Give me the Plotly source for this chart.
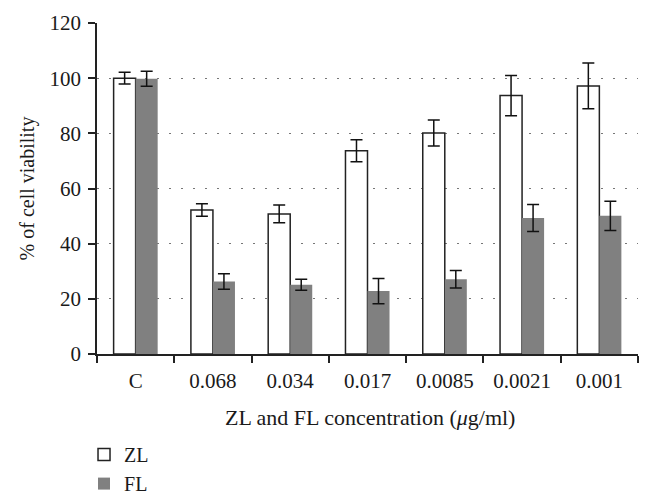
import plotly.graph_objects as go

categories = ["C", "0.068", "0.034", "0.017", "0.0085", "0.0021", "0.001"]
zl_values = [100.0, 52.2, 50.8, 73.7, 80.1, 93.7, 97.2]
zl_errors = [2.1, 2.3, 3.2, 4.0, 4.7, 7.3, 8.3]
fl_values = [99.8, 26.3, 25.1, 22.8, 27.1, 49.3, 50.1]
fl_errors = [2.7, 2.8, 2.0, 4.6, 3.2, 4.9, 5.3]
y_ticks = [0, 20, 40, 60, 80, 100, 120]

FONT = "Liberation Serif"

fig = go.Figure()
fig.add_trace(go.Bar(
    name="ZL", x=categories, y=zl_values,
    marker=dict(color="white", line=dict(color="#222222", width=1.5)),
    error_y=dict(type="data", array=zl_errors, color="#111111", thickness=1.5, width=6),
))
fig.add_trace(go.Bar(
    name="FL", x=categories, y=fl_values,
    marker=dict(color="#808080", line=dict(width=0)),
    error_y=dict(type="data", array=fl_errors, color="#111111", thickness=1.5, width=6),
))

fig.update_layout(
    width=645, height=495,
    margin=dict(l=89, r=15, t=15, b=149, autoexpand=False),
    plot_bgcolor="white", paper_bgcolor="white",
    barmode="group", bargap=0.43, bargroupgap=0,
    font=dict(family=FONT, size=21, color="#1a1a1a"),
    showlegend=True,
    legend=dict(x=-0.024, y=-0.245, xanchor="left", yanchor="top",
                orientation="v", font=dict(family=FONT, size=20, color="#1a1a1a"),
                bgcolor="rgba(0,0,0,0)", tracegroupgap=0),
)
fig.update_xaxes(
    type="category", showline=True, linecolor="#222222", linewidth=1.5,
    ticks="outside", tickson="boundaries", ticklen=7, tickwidth=1.5, tickcolor="#222222",
    showgrid=False, tickfont=dict(family=FONT, size=21), automargin=False,
    ticklabelstandoff=7,
)
fig.update_yaxes(
    range=[0, 120], tickvals=y_ticks, showline=True, linecolor="#222222", linewidth=1.5,
    ticks="outside", ticklen=7, tickwidth=1.5, tickcolor="#222222",
    showgrid=True, gridcolor="#777777", gridwidth=1.2, griddash="1.5px,10.5px",
    zeroline=False, tickfont=dict(family=FONT, size=21), automargin=False,
    ticklabelstandoff=3,
    title=dict(text="% of cell viability", font=dict(family=FONT, size=20), standoff=10),
)
fig.add_annotation(
    text="ZL and FL concentration (<i>μ</i>g/ml)", xref="paper", yref="paper",
    x=0.505, y=-0.192, xanchor="center", yanchor="middle", showarrow=False,
    font=dict(family=FONT, size=22, color="#1a1a1a"),
)

fig.write_html("out.html")
